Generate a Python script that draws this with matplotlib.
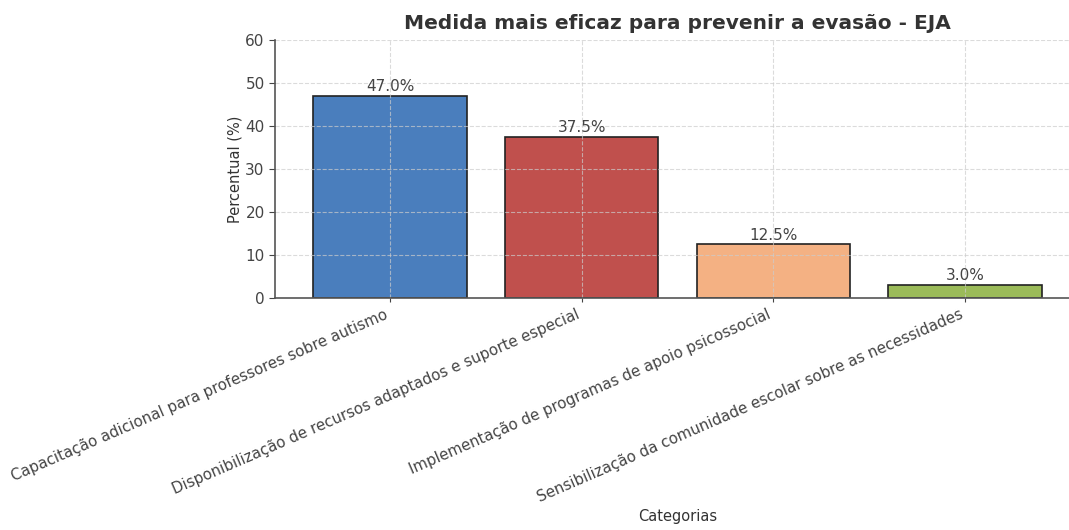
import numpy as np
import matplotlib.pyplot as plt

# Dados do gráfico
categorias = [
    "Capacitação adicional para professores sobre autismo",
    "Disponibilização de recursos adaptados e suporte especial",
    "Implementação de programas de apoio psicossocial",
    "Sensibilização da comunidade escolar sobre as necessidades",
]
percentuais = [47.0, 37.5, 12.5, 3.0]
cores = ["#4a7ebd", "#c0504d", "#f4b183", "#9bbb59"]
yticks = [0, 10, 20, 30, 40, 50, 60]

fig = plt.figure(figsize=(10.69, 5.30), dpi=100)
ax = fig.add_axes([0.2573, 0.4377, 0.753, 0.4868])

x = np.arange(len(categorias))
barras = ax.bar(x, percentuais, width=0.8, color=cores, edgecolor="#222222", linewidth=1.2)

# Rótulos de valor acima das barras
for b, v in zip(barras, percentuais):
    ax.text(b.get_x() + b.get_width() / 2, v + 0.4, f"{v:.1f}%",
            ha="center", va="bottom", fontsize=11, color="#444444")

ax.set_xlim(-0.6, 3.6)
ax.set_ylim(0, 60)
ax.set_yticks(yticks)
ax.set_xticks(x)
ax.set_xticklabels(categorias, rotation=23.5, ha="right", fontsize=10.8, color="#333333")
ax.tick_params(axis="y", labelsize=11, colors="#444444", length=4)
ax.tick_params(axis="x", colors="#444444", length=3)

ax.grid(True, linestyle="--", color="#cccccc", alpha=0.7, linewidth=0.8)

for s in ["top", "right"]:
    ax.spines[s].set_visible(False)
for s in ["left", "bottom"]:
    ax.spines[s].set_color("#555555")
    ax.spines[s].set_linewidth(1.2)

ax.set_title("Medida mais eficaz para prevenir a evasão - EJA",
             fontsize=14.5, fontweight="bold", color="#333333", pad=8)
ax.set_ylabel("Percentual (%)", fontsize=10.5, color="#333333", labelpad=2)
ax.set_xlabel("Categorias", fontsize=10.5, color="#333333", labelpad=3)

fig.savefig("out.png", dpi=100)
